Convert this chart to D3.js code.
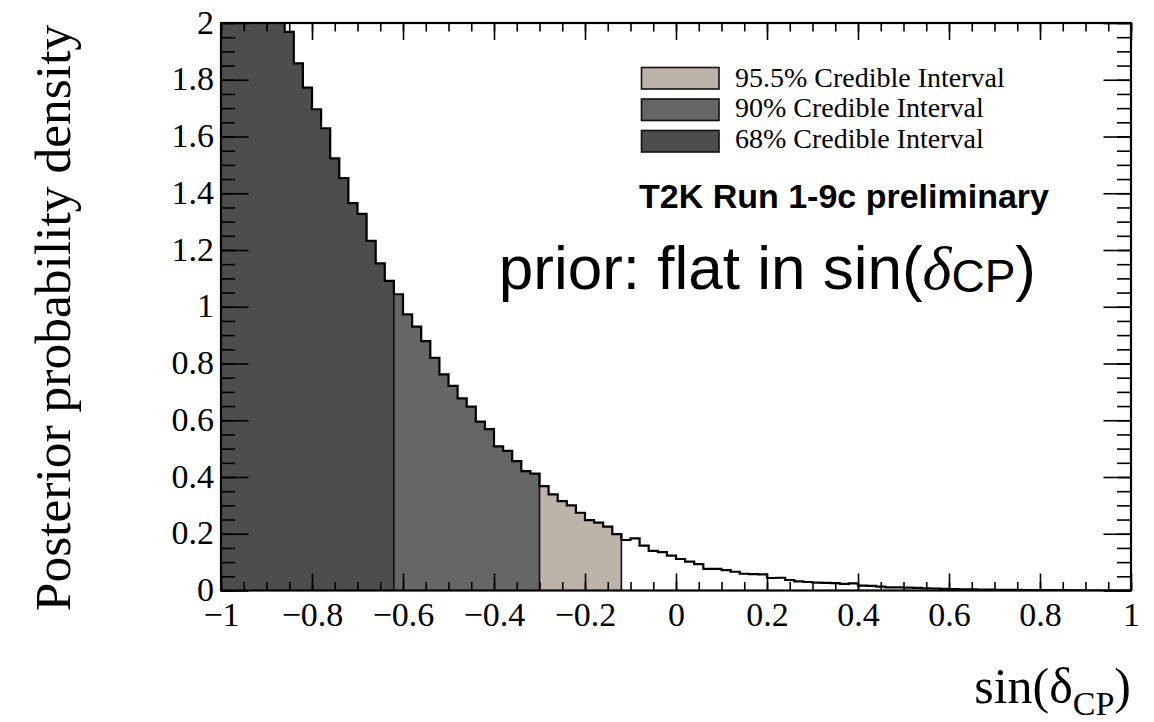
<!DOCTYPE html>
<html>
<head>
<meta charset="utf-8">
<script src="https://cdn.jsdelivr.net/npm/d3@7"></script>
<style>
  body { margin: 0; background: #fff; }
  svg { display: block; }
  .tick text { font-family: "Liberation Serif", "Times New Roman", serif; }
</style>
</head>
<body>
<svg id="chart" width="1154" height="722"></svg>
<script>
// posterior density, 100 bins of width 0.02 from -1 to 1 (first bins run off the top of the frame)
var binLow = -1, binWidth = 0.02;
var density = [
  2.45, 2.38, 2.31, 2.24, 2.17, 2.10, 2.03, 1.969, 1.858, 1.772,
  1.696, 1.629, 1.523, 1.453, 1.365, 1.327, 1.232, 1.153, 1.091, 1.044,
  0.973, 0.930, 0.879, 0.820, 0.762, 0.721, 0.677, 0.648, 0.595, 0.569,
  0.508, 0.492, 0.456, 0.421, 0.412, 0.368, 0.339, 0.315, 0.300, 0.274,
  0.248, 0.239, 0.225, 0.199, 0.178, 0.184, 0.158, 0.140, 0.135, 0.123,
  0.111, 0.102, 0.093, 0.076, 0.076, 0.072, 0.066, 0.059, 0.058, 0.057,
  0.044, 0.045, 0.037, 0.032, 0.030, 0.028, 0.027, 0.026, 0.023, 0.025,
  0.017, 0.016, 0.014, 0.011, 0.011, 0.010, 0.009, 0.008, 0.007, 0.006,
  0.005, 0.004, 0.004, 0.003, 0.003, 0.002, 0.002, 0.002, 0.001, 0.001,
  0.001, 0.001, 0.001, 0.0005, 0.0005, 0, 0, 0, 0, 0
];

// credible intervals: each region runs from the previous edge up to its upper edge
var intervalNames = ["68% Credible Interval", "90% Credible Interval", "95.5% Credible Interval"];
var intervalUpper = [-0.62, -0.30, -0.12];
var intervalColors = ["#4d4d4d", "#666666", "#bdb3a9"];

var xTicks = [-1, -0.8, -0.6, -0.4, -0.2, 0, 0.2, 0.4, 0.6, 0.8, 1];
var yTicks = [0, 0.2, 0.4, 0.6, 0.8, 1, 1.2, 1.4, 1.6, 1.8, 2];

var svg = d3.select("#chart");
var W = 1154, H = 722;
var margin = {left: 221, right: 23, top: 23, bottom: 131.5};

var x = d3.scaleLinear().domain([-1, 1]).range([margin.left, W - margin.right]);
var y = d3.scaleLinear().domain([0, 2]).range([H - margin.bottom, margin.top]);

var bins = density.map(function(v, i) {
  var lo = +(binLow + i * binWidth).toFixed(4);
  return {x0: lo, x1: +(lo + binWidth).toFixed(4), v: v};
});

svg.append("clipPath").attr("id", "frameClip")
  .append("rect")
  .attr("x", x(-1)).attr("y", y(2))
  .attr("width", x(1) - x(-1)).attr("height", y(0) - y(2));

var plot = svg.append("g").attr("clip-path", "url(#frameClip)");

// one filled step area per credible region
var area = d3.area()
  .x(function(d) { return x(d[0]); })
  .y0(y(0))
  .y1(function(d) { return y(d[1]); })
  .curve(d3.curveStepAfter);

var regions = intervalUpper.map(function(hi, k) {
  var lo = k === 0 ? -1 : intervalUpper[k - 1];
  var sel = bins.filter(function(b) { return b.x0 >= lo - 1e-9 && b.x1 <= hi + 1e-9; });
  var pts = sel.map(function(b) { return [b.x0, b.v]; });
  pts.push([hi, sel[sel.length - 1].v]);
  return {k: k, pts: pts};
});

plot.selectAll("path.region")
  .data(regions)
  .join("path")
  .attr("class", "region")
  .attr("d", function(d) { return area(d.pts); })
  .attr("fill", function(d) { return intervalColors[d.k]; });

// separators between the intervals
plot.selectAll("line.sep")
  .data(intervalUpper)
  .join("line")
  .attr("class", "sep")
  .attr("x1", function(d) { return x(d); })
  .attr("x2", function(d) { return x(d); })
  .attr("y1", y(0))
  .attr("y2", function(d) {
    var i = Math.round((d - binLow) / binWidth);
    return y(Math.max(density[i - 1], density[i]));
  })
  .attr("stroke", "#111").attr("stroke-width", 1.6);

// histogram outline
var stepPts = bins.map(function(b) { return [b.x0, b.v]; });
stepPts.push([1, density[density.length - 1]]);
plot.append("path")
  .datum(stepPts)
  .attr("fill", "none")
  .attr("stroke", "#000")
  .attr("stroke-width", 2.2)
  .attr("d", d3.line()
    .x(function(d) { return x(d[0]); })
    .y(function(d) { return y(d[1]); })
    .curve(d3.curveStepAfter));

// axes, ticks pointing inwards on all four sides
var fmt = d3.format("~g");
var xMinor = d3.range(-20, 21).map(function(i) { return i * 0.05; });
var yMinor = d3.range(0, 41).map(function(i) { return i * 0.05; });

function drawAxis(axis, tx, ty) {
  var g = svg.append("g").attr("transform", "translate(" + tx + "," + ty + ")").call(axis);
  g.select(".domain").remove();
  g.selectAll(".tick line").attr("stroke", "#000").attr("stroke-width", 1.6);
  return g;
}

drawAxis(d3.axisBottom(x).tickValues(xMinor).tickSize(-8.5).tickFormat(""), 0, y(0));
drawAxis(d3.axisTop(x).tickValues(xMinor).tickSize(-8.5).tickFormat(""), 0, y(2));
drawAxis(d3.axisTop(x).tickValues(xTicks).tickSize(-17).tickFormat(""), 0, y(2));
var xAxis = drawAxis(d3.axisBottom(x).tickValues(xTicks).tickSize(-17).tickPadding(0).tickFormat(fmt), 0, y(0));
xAxis.selectAll(".tick text")
  .attr("y", 35).attr("dy", null)
  .attr("font-size", 34).attr("fill", "#000");

drawAxis(d3.axisLeft(y).tickValues(yMinor).tickSize(-14).tickFormat(""), x(-1), 0);
drawAxis(d3.axisRight(y).tickValues(yMinor).tickSize(-14).tickFormat(""), x(1), 0);
drawAxis(d3.axisRight(y).tickValues(yTicks).tickSize(-27.5).tickFormat(""), x(1), 0);
var yAxis = drawAxis(d3.axisLeft(y).tickValues(yTicks).tickSize(-27.5).tickPadding(0).tickFormat(fmt), x(-1), 0);
yAxis.selectAll(".tick text")
  .attr("x", -7).attr("dy", "0.3em")
  .attr("font-size", 34).attr("fill", "#000");

// frame
svg.append("rect")
  .attr("x", x(-1)).attr("y", y(2))
  .attr("width", x(1) - x(-1)).attr("height", y(0) - y(2))
  .attr("fill", "none").attr("stroke", "#000").attr("stroke-width", 2.2);

// axis titles
svg.append("text")
  .attr("transform", "translate(70,318) rotate(-90)")
  .attr("text-anchor", "middle")
  .style("font-family", "Liberation Serif, serif")
  .style("font-size", "51.5px")
  .text("Posterior probability density");

var xt = svg.append("text")
  .attr("x", x(1)).attr("y", 703)
  .attr("text-anchor", "end")
  .style("font-family", "Liberation Serif, serif")
  .style("font-size", "50px");
xt.append("tspan").text("sin(δ");
xt.append("tspan").attr("dy", 12).style("font-size", "34px").text("CP");
xt.append("tspan").attr("dy", -12).text(")");

// legend (drawn top to bottom: 95.5%, 90%, 68%)
var legendOrder = [2, 1, 0];
var leg = svg.append("g");
leg.selectAll("rect")
  .data(legendOrder)
  .join("rect")
  .attr("x", 641.5)
  .attr("y", function(d, i) { return 67.5 + i * 31.5; })
  .attr("width", 77.5).attr("height", 21.5)
  .attr("fill", function(d) { return intervalColors[d]; })
  .attr("stroke", "#111").attr("stroke-width", 1.6);
leg.selectAll("text")
  .data(legendOrder)
  .join("text")
  .attr("x", 735)
  .attr("y", function(d, i) { return 86.5 + i * 30.5; })
  .style("font-family", "Liberation Serif, serif")
  .style("font-size", "28px")
  .text(function(d) { return intervalNames[d]; });

svg.append("text")
  .attr("x", 1049).attr("y", 208)
  .attr("text-anchor", "end")
  .style("font-family", "Liberation Sans, Arial, sans-serif")
  .style("font-weight", "bold")
  .style("font-size", "34px")
  .text("T2K Run 1-9c preliminary");

var pt = svg.append("text")
  .attr("x", 1036).attr("y", 289)
  .attr("text-anchor", "end")
  .style("font-family", "Liberation Sans, Arial, sans-serif")
  .style("font-size", "62px");
pt.append("tspan").text("prior: flat in sin(");
pt.append("tspan").style("font-family", "Liberation Serif, serif").style("font-style", "italic").text("δ");
pt.append("tspan").attr("dy", 3).style("font-size", "46px").text("CP");
pt.append("tspan").attr("dy", -3).text(")");
</script>
</body>
</html>
